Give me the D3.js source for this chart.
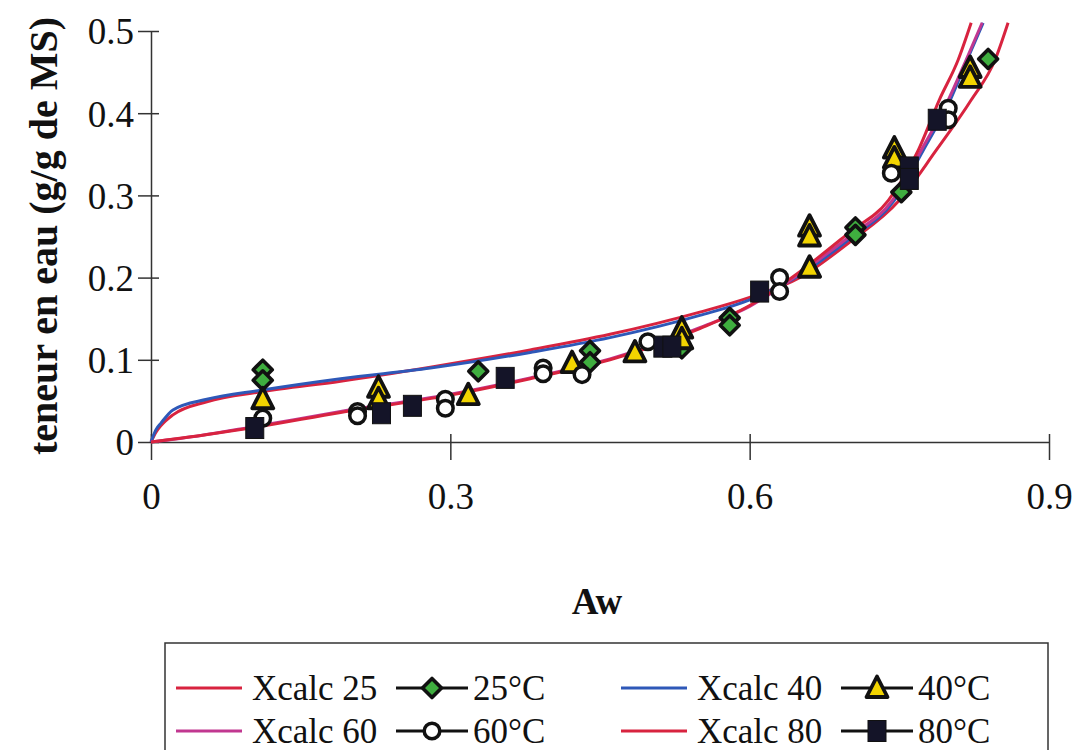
<!DOCTYPE html>
<html><head><meta charset="utf-8">
<script src="https://cdn.jsdelivr.net/npm/d3@7"></script>
<style>body{margin:0;background:#fff}svg{display:block}</style>
</head><body>
<script>
// ---- data ----
const xTicks = [0, 0.3, 0.6, 0.9];
const yTicks = [0, 0.1, 0.2, 0.3, 0.4, 0.5];

const calc25Aw = [0, 0.005, 0.01, 0.022, 0.056, 0.11, 0.19, 0.28, 0.38, 0.46, 0.55, 0.6, 0.65, 0.7, 0.75, 0.787, 0.822, 0.846, 0.859];
const calc25X  = [0, 0.012, 0.02, 0.033, 0.049, 0.061, 0.074, 0.091, 0.112, 0.131, 0.158, 0.176, 0.2, 0.243, 0.294, 0.355, 0.416, 0.465, 0.51];
const calc40Aw = [0, 0.005, 0.01, 0.022, 0.056, 0.11, 0.19, 0.28, 0.38, 0.46, 0.55, 0.6, 0.65, 0.7, 0.745, 0.774, 0.801, 0.818, 0.834];
const calc40X  = [0, 0.015, 0.023, 0.039, 0.052, 0.063, 0.077, 0.09, 0.109, 0.127, 0.154, 0.173, 0.203, 0.247, 0.294, 0.355, 0.416, 0.465, 0.51];
const calc60Aw = [0, 0.05, 0.1, 0.19, 0.3, 0.38, 0.46, 0.55, 0.6, 0.65, 0.7, 0.743, 0.772, 0.799, 0.817, 0.833];
const calc60X  = [0, 0.008, 0.018, 0.037, 0.058, 0.078, 0.101, 0.139, 0.165, 0.205, 0.25, 0.294, 0.355, 0.416, 0.465, 0.51];
const calc80Aw = [0, 0.05, 0.1, 0.19, 0.3, 0.38, 0.46, 0.55, 0.6, 0.65, 0.7, 0.739, 0.769, 0.79, 0.809, 0.822];
const calc80X  = [0, 0.008, 0.017, 0.036, 0.057, 0.077, 0.1, 0.138, 0.166, 0.207, 0.255, 0.294, 0.355, 0.416, 0.465, 0.51];

const obs25Aw = [0.112, 0.112, 0.328, 0.44, 0.44, 0.532, 0.58, 0.58, 0.706, 0.706, 0.752, 0.839];
const obs25X  = [0.088, 0.075, 0.086, 0.111, 0.097, 0.114, 0.151, 0.142, 0.261, 0.252, 0.304, 0.466];
const obs40Aw = [0.112, 0.228, 0.228, 0.318, 0.422, 0.485, 0.532, 0.532, 0.66, 0.66, 0.66, 0.745, 0.745, 0.821, 0.821];
const obs40X  = [0.052, 0.066, 0.052, 0.057, 0.096, 0.109, 0.138, 0.125, 0.262, 0.25, 0.212, 0.357, 0.345, 0.455, 0.443];
const obs60Aw = [0.112, 0.207, 0.207, 0.295, 0.295, 0.393, 0.393, 0.432, 0.498, 0.63, 0.63, 0.742, 0.799, 0.799];
const obs60X  = [0.029, 0.037, 0.032, 0.052, 0.041, 0.09, 0.083, 0.082, 0.122, 0.2, 0.183, 0.327, 0.406, 0.392];
const obs80Aw = [0.104, 0.231, 0.262, 0.355, 0.513, 0.522, 0.61, 0.76, 0.76, 0.788];
const obs80X  = [0.017, 0.035, 0.044, 0.078, 0.116, 0.116, 0.183, 0.334, 0.32, 0.392];

const curveNames = ["Xcalc 25", "Xcalc 40", "Xcalc 60", "Xcalc 80"];
const obsNames = ["25°C", "40°C", "60°C", "80°C"];

// ---- setup ----
const FONT = '"Liberation Serif"';
const W = 1078, H = 750;
const svg = d3.select("body").append("svg").attr("width", W).attr("height", H);
const x = d3.scaleLinear().domain([0, 0.9]).range([151, 1049]);
const y = d3.scaleLinear().domain([0, 0.5]).range([442, 31]);

const zip = (a, b) => a.map((v, i) => [v, b[i]]);
const curves = [
  {name: curveNames[0], pts: zip(calc25Aw, calc25X), color: "#d8233f"},
  {name: curveNames[1], pts: zip(calc40Aw, calc40X), color: "#2e58b8"},
  {name: curveNames[2], pts: zip(calc60Aw, calc60X), color: "#c13790"},
  {name: curveNames[3], pts: zip(calc80Aw, calc80X), color: "#d8233f"}
];

// axes
const axisColor = "#333";
const fmt = d => d === 0 ? "0" : d3.format(".1f")(d);
const yAxis = svg.append("g").attr("transform", `translate(${x(0)},0)`)
  .call(d3.axisLeft(y).tickValues(yTicks).tickSize(0).tickFormat(fmt));
yAxis.attr("font-family", null).attr("font-size", null);
yAxis.select(".domain").attr("stroke", axisColor).attr("stroke-width", 1.5);
yAxis.selectAll(".tick line").remove();
yAxis.selectAll(".tick").append("line").attr("x1", -13).attr("x2", 8).attr("stroke", axisColor).attr("stroke-width", 1.5);
yAxis.selectAll(".tick text").attr("x", -17).attr("dy", "0.35em").style("font-size", "37px").style("font-family", FONT).attr("fill", "#111");

const xAxis = svg.append("g").attr("transform", `translate(0,${y(0)})`)
  .call(d3.axisBottom(x).tickValues(xTicks).tickSize(0).tickFormat(fmt));
xAxis.attr("font-family", null).attr("font-size", null);
xAxis.select(".domain").attr("stroke", axisColor).attr("stroke-width", 1.5);
xAxis.selectAll(".tick line").remove();
xAxis.selectAll(".tick").append("line").attr("y1", -8).attr("y2", 18).attr("stroke", axisColor).attr("stroke-width", 1.5);
xAxis.selectAll(".tick text").attr("y", 54).attr("dy", "0.35em").style("font-size", "37px").style("font-family", FONT).attr("fill", "#111");

// titles
svg.append("text").attr("x", 597).attr("y", 614).attr("text-anchor", "middle")
  .style("font-family", FONT).style("font-size", "37px").style("font-weight", "bold").attr("fill", "#111").text("Aw");
svg.append("text").attr("transform", "translate(57,236) rotate(-90)").attr("text-anchor", "middle")
  .style("font-family", FONT).style("font-size", "40px").style("font-weight", "bold").attr("fill", "#111").text("teneur en eau (g/g de MS)");

// curves
const line = d3.line().x(d => x(d[0])).y(d => y(d[1])).curve(d3.curveMonotoneX);
svg.append("g").selectAll("path").data(curves).join("path")
  .attr("d", d => line(d.pts)).attr("fill", "none")
  .attr("stroke", d => d.color).attr("stroke-width", 3);

// markers
function marker(g, type) {
  if (type === "diamond") {
    g.append("path").attr("d", "M0,-9.5L9.5,0L0,9.5L-9.5,0Z").attr("fill", "#3fae3f").attr("stroke", "#111").attr("stroke-width", 3.6).attr("stroke-linejoin", "round");
  } else if (type === "triangle") {
    g.append("path").attr("d", "M0,-11.5L10.5,9L-10.5,9Z").attr("fill", "#f2d400").attr("stroke", "#111").attr("stroke-width", 3.8).attr("stroke-linejoin", "round");
  } else if (type === "circle") {
    g.append("circle").attr("r", 7.8).attr("fill", "#fff").attr("stroke", "#111").attr("stroke-width", 3.5);
  } else {
    g.append("rect").attr("x", -9).attr("y", -10.5).attr("width", 18).attr("height", 21).attr("fill", "#141428").attr("stroke", "#111").attr("stroke-width", 1);
  }
}
const obsSeries = [
  {pts: zip(obs25Aw, obs25X), type: "diamond"},
  {pts: zip(obs40Aw, obs40X), type: "triangle"},
  {pts: zip(obs60Aw, obs60X), type: "circle"},
  {pts: zip(obs80Aw, obs80X), type: "square"}
];
obsSeries.forEach(s => {
  const gg = svg.append("g");
  s.pts.forEach(p => {
    const g = gg.append("g").attr("transform", `translate(${x(p[0])},${y(p[1])})`);
    marker(g, s.type);
  });
});

// legend
const lg = svg.append("g");
lg.append("rect").attr("x", 165).attr("y", 643).attr("width", 883).attr("height", 130)
  .attr("fill", "#fff").attr("stroke", "#333").attr("stroke-width", 1.5);
const rows = [688, 731];
const cols = [176, 621];
const items = [
  {c: 0, r: 0, ci: 0, type: "diamond"},
  {c: 1, r: 0, ci: 1, type: "triangle"},
  {c: 0, r: 1, ci: 2, type: "circle"},
  {c: 1, r: 1, ci: 3, type: "square"}
];
items.forEach(it => {
  const x0 = cols[it.c], yy = rows[it.r];
  lg.append("line").attr("x1", x0).attr("x2", x0 + 66).attr("y1", yy).attr("y2", yy)
    .attr("stroke", curves[it.ci].color).attr("stroke-width", 3);
  lg.append("text").attr("x", x0 + 76).attr("y", yy + 12).style("font-family", FONT).style("font-size", "35px").attr("fill", "#111").text(curveNames[it.ci]);
  lg.append("line").attr("x1", x0 + 220).attr("x2", x0 + 292).attr("y1", yy).attr("y2", yy)
    .attr("stroke", "#111").attr("stroke-width", 3);
  const g = lg.append("g").attr("transform", `translate(${x0 + 256},${yy})`);
  marker(g, it.type);
  lg.append("text").attr("x", x0 + 297).attr("y", yy + 12).style("font-family", FONT).style("font-size", "35px").attr("fill", "#111").text(obsNames[it.ci]);
});
</script>
</body></html>
